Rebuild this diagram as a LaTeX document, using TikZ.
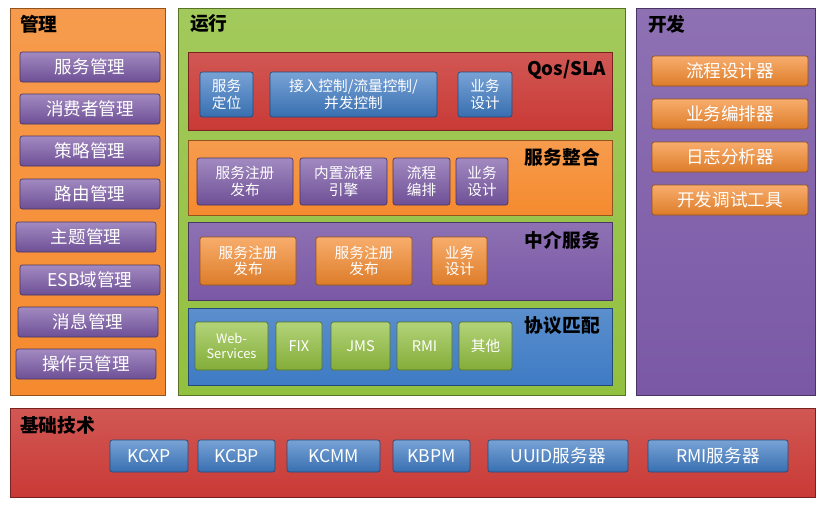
\documentclass[tikz,border=0pt]{standalone}
\usepackage{fontspec}
\setmainfont{Noto Sans CJK SC}
\usetikzlibrary{fit,positioning}
\definecolor{cOrange}{HTML}{F58A2E}
\definecolor{cPurple}{HTML}{7A58A6}
\definecolor{cGreen}{HTML}{92C03F}
\definecolor{cRed}{HTML}{C93A36}
\definecolor{cBlue}{HTML}{3E7BC4}
\begin{document}
\begin{tikzpicture}[
        x=0.03cm, y=-0.03cm,
        panel/.style={draw=#1!60!black, top color=#1!85!white, bottom color=#1, line width=0.8pt, inner sep=0pt},
        btn/.style={draw=#1!60!black, top color=#1!70!white, bottom color=#1!90!black, rounded corners=2pt,
            line width=0.6pt, inner sep=0pt},
        btntext/.style={text=white, align=center, font=\fontsize{15}{17}\selectfont},
        stext/.style={text=white, align=center, font=\fontsize{12.5}{14}\selectfont},
        title/.style={anchor=west, font=\fontsize{16}{18}\selectfont\bfseries}
    ]
    \useasboundingbox (0,0) rectangle (823,504);

    % 管理
    \node[panel=cOrange, fit={(10,8)(165,395)}] (guanli) {};
    \node[title] at (16,24) {管理};
    \foreach \t/\y/\a/\b [count=\i] in {服务管理/67/20/160, 消费者管理/109/20/160, 策略管理/151/20/160,
        路由管理/194/20/160, 主题管理/237/16/156, ESB域管理/280/20/160, 消息管理/322/18/158, 操作员管理/364/16/156}
        \node[btn=cPurple, fit={(\a,\y-15)(\b,\y+15)}, label={[btntext]center:\t}] (gl\i) {};

    % 运行
    \node[panel=cGreen, fit={(178,8)(625,395)}] (yunxing) {};
    \node[title] at (186,24) {运行};

    \node[panel=cRed, fit={(188,52)(612,130)}] (qos) {};
    \node[title, anchor=east] at (610,70) {Qos/SLA};
    \node[btn=cBlue, fit={(200,72)(253,117)}, label={[stext]center:服务\\定位}] (q1) {};
    \node[btn=cBlue, fit={(270,72)(437,117)}, label={[stext]center:接入控制/流量控制/\\并发控制}] (q2) {};
    \node[btn=cBlue, fit={(458,72)(512,117)}, label={[stext]center:业务\\设计}] (q3) {};

    \node[panel=cOrange, fit={(188,140)(612,215)}] (zhenghe) {};
    \node[title, anchor=east] at (604,157) {服务整合};
    \node[btn=cPurple, fit={(197,158)(293,205)}, label={[stext]center:服务注册\\发布}] (z1) {};
    \node[btn=cPurple, fit={(300,158)(387,205)}, label={[stext]center:内置流程\\引擎}] (z2) {};
    \node[btn=cPurple, fit={(393,158)(450,205)}, label={[stext]center:流程\\编排}] (z3) {};
    \node[btn=cPurple, fit={(456,158)(508,205)}, label={[stext]center:业务\\设计}] (z4) {};

    \node[panel=cPurple, fit={(188,222)(612,300)}] (zhongjie) {};
    \node[title, anchor=east] at (604,240) {中介服务};
    \node[btn=cOrange, fit={(200,237)(296,285)}, label={[stext]center:服务注册\\发布}] (m1) {};
    \node[btn=cOrange, fit={(316,237)(412,285)}, label={[stext]center:服务注册\\发布}] (m2) {};
    \node[btn=cOrange, fit={(432,237)(487,285)}, label={[stext]center:业务\\设计}] (m3) {};

    \node[panel=cBlue, fit={(188,308)(612,385)}] (xieyi) {};
    \node[title, anchor=east] at (604,326) {协议匹配};
    \node[btn=cGreen, fit={(195,322)(268,370)}, label={[stext, font=\fontsize{11}{13}\selectfont]center:Web-\\Services}] (x1) {};
    \node[btn=cGreen, fit={(276,322)(322,370)}, label={[stext]center:FIX}] (x2) {};
    \node[btn=cGreen, fit={(331,322)(390,370)}, label={[stext]center:JMS}] (x3) {};
    \node[btn=cGreen, fit={(397,322)(452,370)}, label={[stext]center:RMI}] (x4) {};
    \node[btn=cGreen, fit={(459,322)(512,370)}, label={[stext]center:其他}] (x5) {};

    % 开发
    \node[panel=cPurple, fit={(636,8)(815,395)}] (kaifa) {};
    \node[title] at (644,24) {开发};
    \foreach \t/\y [count=\i] in {流程设计器/71, 业务编排器/114, 日志分析器/157, 开发调试工具/200}
        \node[btn=cOrange, fit={(652,\y-15)(808,\y+15)}, label={[btntext]center:\t}] (kf\i) {};

    % 基础技术
    \node[panel=cRed, fit={(10,408)(815,497)}] (jichu) {};
    \node[title] at (16,425) {基础技术};
    \foreach \t/\a/\b [count=\i] in {KCXP/110/188, KCBP/198/275, KCMM/287/380, KBPM/393/470,
        UUID服务器/488/628, RMI服务器/648/788}
        \node[btn=cBlue, fit={(\a,440)(\b,472)}, label={[btntext]center:\t}] (jc\i) {};
\end{tikzpicture}
\end{document}
